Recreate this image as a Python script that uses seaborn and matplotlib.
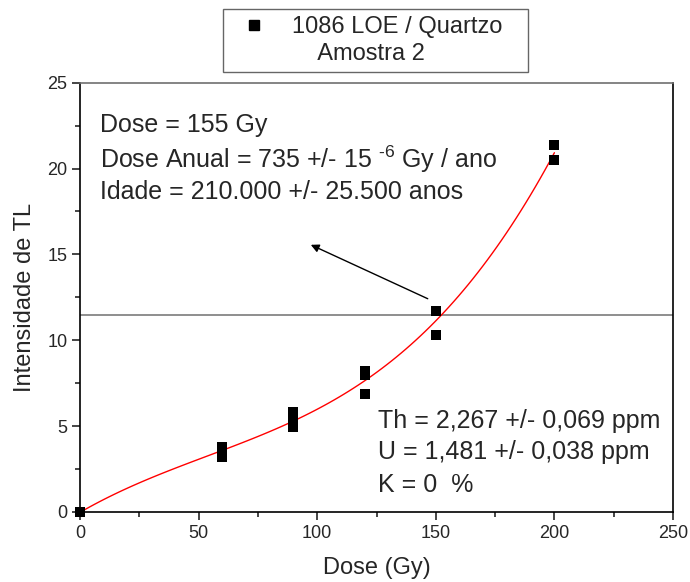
import numpy as np
import pandas as pd
import matplotlib
matplotlib.use("Agg")
import matplotlib.pyplot as plt
from matplotlib.lines import Line2D
import seaborn as sns

# TL intensity measured for each added dose (three readings per dose where available)
dose_gy = [0, 0, 60, 60, 60, 90, 90, 90, 120, 120, 120, 150, 150, 200, 200]
tl_intensity = [0.0, 0.0, 3.2, 3.5, 3.8, 4.95, 5.4, 5.8, 6.9, 8.0, 8.2, 10.3, 11.7, 20.5, 21.4]

natural_level = 11.5          # natural TL signal (horizontal reference)
x_ticks = [0, 50, 100, 150, 200, 250]
y_ticks = [0, 5, 10, 15, 20, 25]

legend_labels = ["1086 LOE / Quartzo", "    Amostra 2"]
result_lines = ["Dose = 155 Gy",
                r"Dose Anual = 735 +/- 15 $^{\text{-}6}$ Gy / ano",
                "Idade = 210.000 +/- 25.500 anos"]
element_lines = ["Th = 2,267 +/- 0,069 ppm",
                 "U = 1,481 +/- 0,038 ppm",
                 "K = 0  %"]

df = pd.DataFrame({"dose": dose_gy, "tl": tl_intensity})

sns.set_style("ticks")
plt.rcParams["font.family"] = ["Liberation Sans", "DejaVu Sans"]
plt.rcParams["mathtext.fontset"] = "custom"
plt.rcParams["mathtext.rm"] = "Liberation Sans"
plt.rcParams["mathtext.it"] = "Liberation Sans:italic"
plt.rcParams["mathtext.bf"] = "Liberation Sans:bold"
plt.rcParams["mathtext.default"] = "regular"

fig = plt.figure(figsize=(6.9, 5.82), dpi=100)
ax = fig.add_axes([80 / 690, 1 - 512 / 582, 593 / 690, 429.3 / 582])

# cubic growth curve fitted to the readings
sns.regplot(data=df, x="dose", y="tl", order=3, ci=None, scatter=False,
            line_kws=dict(color="#ff0000", lw=1.0), ax=ax)
sns.scatterplot(data=df, x="dose", y="tl", marker="s", s=48, color="black",
                linewidth=0, ax=ax, zorder=3, clip_on=False)

ax.axhline(natural_level, color="#707070", lw=1.1, zorder=1)

ax.annotate("", xy=(97.3, 15.56), xytext=(146.6, 12.42),
            arrowprops=dict(arrowstyle="-|>", color="black", lw=1.0,
                            mutation_scale=12, shrinkA=0, shrinkB=0))

ax.set_xlim(0, 250)
ax.set_ylim(0, 25)
ax.set_xticks(x_ticks)
ax.set_yticks(y_ticks)
ax.set_xticks(np.arange(25, 250, 50), minor=True)
ax.set_yticks(np.arange(2.5, 25, 5), minor=True)
ax.tick_params(which="major", direction="out", length=6, width=1.2,
               labelsize=13, pad=3)
ax.tick_params(which="minor", direction="out", length=3.8, width=1.2)

for side in ["left", "bottom", "right"]:
    ax.spines[side].set_color("black")
    ax.spines[side].set_linewidth(1.2)
    ax.spines[side].set_visible(True)
ax.spines["top"].set_visible(True)
ax.spines["top"].set_color("#707070")
ax.spines["top"].set_linewidth(1.2)

ax.set_xlabel("Dose (Gy)", fontsize=17, labelpad=11)
ax.set_ylabel("Intensidade de TL", fontsize=17, labelpad=8)

for txt, yy in zip(result_lines, [0.901, 0.822, 0.745]):
    ax.text(0.034, yy, txt, transform=ax.transAxes, fontsize=18,
            ha="left", va="center")
for txt, yy in zip(element_lines, [0.212, 0.140, 0.063]):
    ax.text(0.5025, yy, txt, transform=ax.transAxes, fontsize=18,
            ha="left", va="center")

handles = [Line2D([], [], ls="none", marker="s", markersize=7,
                  markerfacecolor="black", markeredgecolor="black"),
           Line2D([], [], ls="none")]
leg = ax.legend(handles, legend_labels, fontsize=17,
                loc="upper left",
                bbox_to_anchor=(223 / 690, 1 - 78 / 582, 305 / 690, 69 / 582),
                bbox_transform=fig.transFigure, mode="expand",
                borderaxespad=0, borderpad=0.3, handlelength=2.0,
                handletextpad=0.64, labelspacing=0.2,
                fancybox=False, frameon=True, edgecolor="#404040")
leg.get_frame().set_linewidth(1.0)

fig.savefig("out.png", dpi=100)
